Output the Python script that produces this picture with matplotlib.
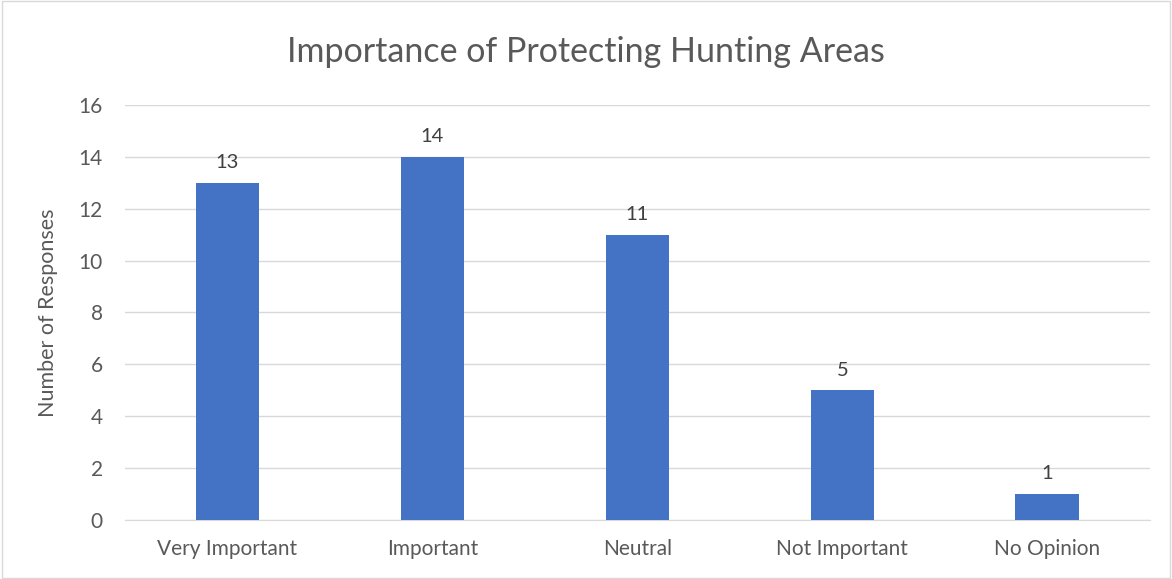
import matplotlib
matplotlib.use("Agg")
import matplotlib.pyplot as plt
from matplotlib.patches import Rectangle

categories = ["Very Important", "Important", "Neutral", "Not Important", "No Opinion"]
responses = [13, 14, 11, 5, 1]
y_ticks = [0, 2, 4, 6, 8, 10, 12, 14, 16]

BAR_COLOR = "#4472C4"
TEXT_COLOR = "#595959"
GRID_COLOR = "#D9D9D9"

plt.rcParams["font.family"] = ["Lato", "DejaVu Sans"]

fig = plt.figure(figsize=(11.72, 5.79), dpi=100)
ax = fig.add_axes([0.1067, 0.102, 0.8743, 0.7167])

x = list(range(len(categories)))
bars = ax.bar(x, responses, width=0.31, color=BAR_COLOR, zorder=3)
for xi, v in zip(x, responses):
    ax.text(xi, v + 0.45, str(v), ha="center", va="bottom", fontsize=14.5, color="#404040")

ax.set_xlim(-0.5, len(categories) - 0.5)
ax.set_ylim(0, 16)
ax.set_yticks(y_ticks)
ax.set_xticks(x)
ax.set_xticklabels(categories)
ax.tick_params(axis="both", length=0, labelsize=15, labelcolor=TEXT_COLOR)
ax.tick_params(axis="x", pad=14)
ax.tick_params(axis="y", pad=16)
ax.yaxis.grid(True, color=GRID_COLOR, linewidth=1, zorder=0)
for s in ["top", "right", "left"]:
    ax.spines[s].set_visible(False)
ax.spines["bottom"].set_color(GRID_COLOR)
ax.set_ylabel("Number of Responses", fontsize=15.5, color=TEXT_COLOR, labelpad=15)

fig.suptitle("Importance of Protecting Hunting Areas", fontsize=24.5, color=TEXT_COLOR, y=0.938)

fig.patches.append(Rectangle((0.002, 0.002), 0.996, 0.996, transform=fig.transFigure,
                             fill=False, edgecolor=GRID_COLOR, linewidth=1))

fig.savefig("out.png", dpi=100)
